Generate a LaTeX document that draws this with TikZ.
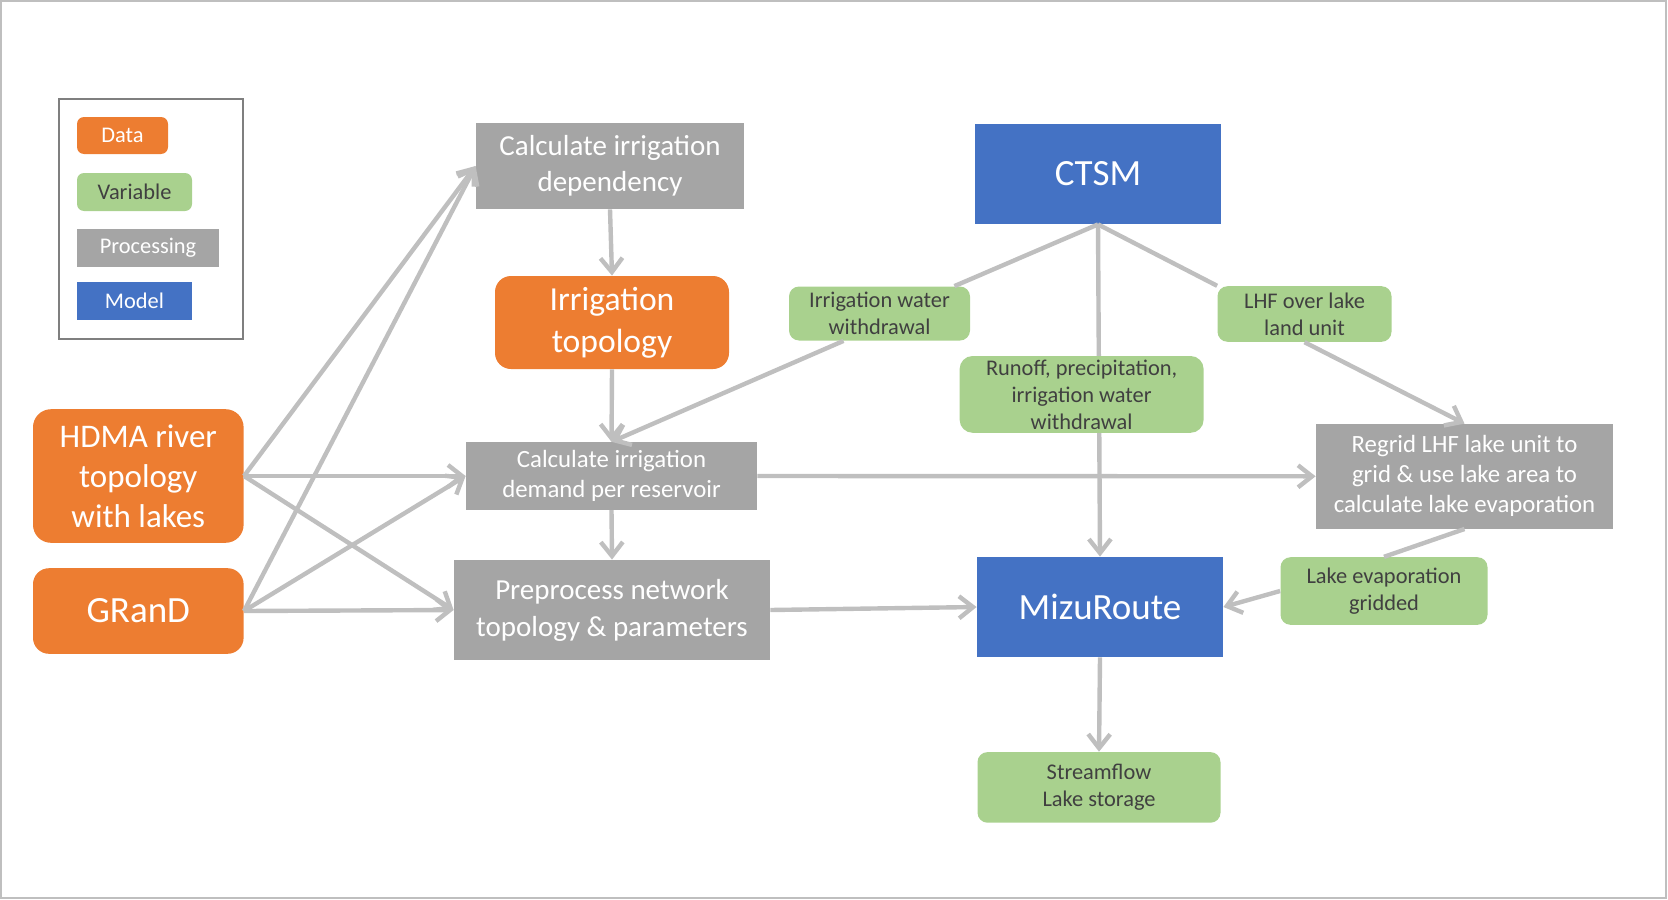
\documentclass[tikz,border=0pt]{standalone}
\usepackage{fontspec}
\setmainfont{Carlito}
\usetikzlibrary{arrows.meta}

\definecolor{dataorange}{HTML}{ED7D31}
\definecolor{vargreen}{HTML}{A9D18E}
\definecolor{vartext}{HTML}{404040}
\definecolor{procgrey}{HTML}{A5A5A5}
\definecolor{modelblue}{HTML}{4472C4}
\definecolor{linegrey}{HTML}{BFBFBF}
\definecolor{keygrey}{HTML}{7F7F7F}

\tikzset{
  box/.style={inner sep=0pt, align=center, text=white},
  data/.style={box, fill=dataorange, rounded corners=8pt},
  var/.style={box, fill=vargreen, rounded corners=5pt, text=vartext,
    font=\fontsize{11.2}{13.5}\selectfont},
  proc/.style={box, fill=procgrey},
  model/.style={box, fill=modelblue, font=\fontsize{18.5}{22}\selectfont},
  keyfont/.style={font=\fontsize{11.2}{13}\selectfont},
  link/.style={draw=linegrey, line width=2.2pt},
  flow/.style={link, -{Straight Barb[length=7pt,width=11pt]}},
}

\begin{document}
\begin{tikzpicture}[x=0.5pt, y=-0.5pt]
    \useasboundingbox (0,0) rectangle (1668,899);
    \draw[linegrey, line width=1pt] (1,1) rectangle (1666,898);

    % legend
    \draw[keygrey, line width=1pt] (58.5,98.7) rectangle (243,339.3);
    \node[data, keyfont, rounded corners=3.5pt, minimum width=45.5pt, minimum height=18.5pt] (keydata) at (122.5,135.5) {Data};
    \node[var, keyfont, rounded corners=3.5pt, minimum width=57.5pt, minimum height=19pt] (keyvar) at (134.5,192) {Variable};
    \node[proc, keyfont, minimum width=71pt, minimum height=19pt] (keyproc) at (148,248) {Processing};
    \node[model, keyfont, minimum width=57.5pt, minimum height=19pt] (keymodel) at (134.5,301) {Model};

    % data
    \node[data, font=\fontsize{16.5}{20}\selectfont, rounded corners=9pt, minimum width=105.3pt, minimum height=66.8pt] (hdma) at (138.3,476) {HDMA river\\topology\\with lakes};
    \node[data, font=\fontsize{18.5}{22}\selectfont, minimum width=105.3pt, minimum height=42.8pt] (grand) at (138.3,611) {GRanD};
    \node[data, font=\fontsize{16.8}{21}\selectfont, minimum width=117pt, minimum height=46.5pt] (irrtopo) at (612,322.5) {Irrigation\\topology};

    % processing
    \node[proc, font=\fontsize{14.5}{18}\selectfont, minimum width=134pt, minimum height=43pt] (calcdep) at (610,166) {Calculate irrigation\\dependency};
    \node[proc, font=\fontsize{12.4}{15}\selectfont, minimum width=145.5pt, minimum height=33.8pt] (calcdem) at (611.5,476) {Calculate irrigation\\demand per reservoir};
    \node[proc, font=\fontsize{14.5}{18.5}\selectfont, minimum width=158pt, minimum height=50pt] (prep) at (612,610) {Preprocess network\\topology \& parameters};
    \node[proc, font=\fontsize{12.4}{15}\selectfont, minimum width=148.5pt, minimum height=52.3pt] (regrid) at (1464.5,476.3) {Regrid LHF lake unit to\\grid \& use lake area to\\calculate lake evaporation};

    % models
    \node[model, minimum width=123pt, minimum height=50pt] (ctsm) at (1098,174) {CTSM};
    \node[model, minimum width=123pt, minimum height=50pt] (mizu) at (1100,607) {MizuRoute};

    % variables
    \node[var, minimum width=90.5pt, minimum height=27pt] (irrw) at (879.5,313.5) {Irrigation water\\withdrawal};
    \node[var, minimum width=87pt, minimum height=27.8pt] (lhf) at (1304.5,314) {LHF over lake\\land unit};
    \node[var, minimum width=103.5pt, minimum height=33.8pt] (lakeev) at (1384,591) {Lake evaporation\\gridded};
    \node[var, minimum width=121.5pt, minimum height=35.3pt] (stream) at (1099,787.4) {Streamflow\\Lake storage};

    % connectors
    \foreach \src in {hdma,grand}
        \foreach \dst in {calcdep,calcdem,prep}
            \draw[flow] (\src.east) -- (\dst.west);
    \draw[flow] (calcdep.south) -- (irrtopo.north);
    \draw[flow] (irrtopo.south) -- (calcdem.north);
    \draw[flow] ([xshift=-18pt]irrw.south) -- (calcdem.north);
    \draw[flow] (calcdem.south) -- (prep.north);
    \draw[flow] (calcdem.east) -- (regrid.west);
    \draw[flow] (prep.east) -- (mizu.west);
    \draw[link] (ctsm.south) -- ([xshift=-8pt]irrw.north east);
    \draw[link] (ctsm.south) -- (lhf.north west);
    \draw[flow] (ctsm.south) -- (mizu.north);
    \draw[flow] (lhf.south) -- (regrid.north);
    \draw[link] (regrid.south) -- (lakeev.north);
    \draw[flow] (lakeev.west) -- (mizu.east);
    \draw[flow] (mizu.south) -- (stream.north);

    % drawn last, over the CTSM line
    \node[var, rounded corners=6.5pt, minimum width=122pt, minimum height=38.4pt] (runoff) at (1081.6,394.4) {Runoff, precipitation,\\irrigation water\\withdrawal};
\end{tikzpicture}
\end{document}
